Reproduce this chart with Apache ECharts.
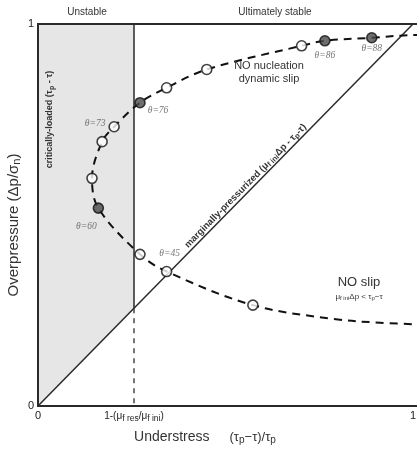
<!DOCTYPE html>
<html><head><meta charset="utf-8">
<script src="https://cdn.jsdelivr.net/npm/echarts@6/dist/echarts.min.js"></script>
<style>html,body{margin:0;padding:0;background:#fff}#c{width:417px;height:450px}</style>
</head><body><div id="c"></div>
<script>
// curve, from top-right around to bottom-right
const curveX = [1.06, 0.992, 0.890, 0.765, 0.703, 0.450, 0.343, 0.272, 0.203, 0.171, 0.144, 0.161, 0.272, 0.343, 0.573, 0.787, 0.912, 1.06];
const curveY = [0.972, 0.971, 0.964, 0.956, 0.943, 0.881, 0.833, 0.794, 0.731, 0.692, 0.596, 0.518, 0.397, 0.352, 0.264, 0.228, 0.218, 0.212];
// open markers
const openX = [0.703, 0.450, 0.343, 0.203, 0.171, 0.144, 0.272, 0.343, 0.573];
const openY = [0.943, 0.881, 0.833, 0.731, 0.692, 0.596, 0.397, 0.352, 0.264];
// filled markers
const fillX = [0.890, 0.765, 0.272, 0.161];
const fillY = [0.964, 0.956, 0.794, 0.518];
// theta labels
const thetaVal = [88, 86, 76, 73, 60, 45];
const thetaX = [0.890, 0.765, 0.272, 0.203, 0.161, 0.343];
const thetaY = [0.964, 0.956, 0.794, 0.731, 0.518, 0.352];
// threshold 1-(mu_res/mu_ini)
const threshold = 0.256;
const xTicks = [0, threshold, 1];
const yTicks = [0, 1];

const thetaOffsets = [[0, 11], [0, 15], [18, 8], [-19, -3], [-12, 18], [3, -18]];

const zip = (a, b) => a.map((v, i) => [v, b[i]]);
const chart = echarts.init(document.getElementById('c'));
const sans = 'Liberation Sans, Arial, sans-serif';

const option = {
  animation: false,
  grid: { left: 38, top: 24, height: 382, width: 412.5, outerBoundsMode: 'none', containLabel: false, show: true, borderColor: '#2a2a2a', borderWidth: 2, z: 10 },
  xAxis: {
    type: 'value', min: 0, max: 1.1, interval: 1,
    axisLine: { show: true, lineStyle: { color: '#2a2a2a', width: 2 } },
    axisTick: { show: false },
    splitLine: { show: false },
    axisLabel: {
      customValues: xTicks,
      margin: 4,
      formatter: v => v === 0 ? '{n|0}' : (Math.abs(v - threshold) < 1e-6 ? '{s|1-(μ}{sub|f res}{s|/μ}{sub|f ini}{s|)}' : '{n|1}'),
      rich: {
        n: { fontSize: 11, color: '#222', fontFamily: sans },
        s: { fontSize: 10, color: '#222', fontFamily: sans },
        sub: { fontSize: 8.5, color: '#222', fontFamily: sans, padding: [4, 0, 0, 0] }
      }
    }
  },
  yAxis: {
    type: 'value', min: 0, max: 1, interval: 1,
    axisLine: { show: true, lineStyle: { color: '#2a2a2a', width: 2 } },
    axisTick: { show: false },
    splitLine: { show: false },
    axisLabel: { fontSize: 11, color: '#222', fontFamily: sans, margin: 4 }
  },
  series: [
    {
      type: 'custom', silent: true, z: 1,
      renderItem: (params, api) => {
        const pts = [[0, 0], [0, 1], [threshold, 1], [threshold, threshold]].map(p => api.coord(p));
        return { type: 'polygon', shape: { points: pts }, style: { fill: '#e6e6e6' } };
      },
      data: [[0, 0]]
    },
    { type: 'line', z: 3, silent: true, symbol: 'none', data: [[threshold, 1], [threshold, threshold]], lineStyle: { color: '#2a2a2a', width: 1.5 } },
    { type: 'line', z: 3, silent: true, symbol: 'none', data: [[threshold, threshold], [threshold, 0]], lineStyle: { color: '#2a2a2a', width: 1.3, type: [5, 5] } },
    { type: 'line', z: 3, silent: true, symbol: 'none', data: [[0, 0], [1, 1]], lineStyle: { color: '#2a2a2a', width: 1.5 } },
    { type: 'line', z: 4, silent: true, symbol: 'none', smooth: 0.35, data: zip(curveX, curveY), lineStyle: { color: '#111', width: 2, type: [8, 6] } },
    { type: 'scatter', z: 5, symbol: 'circle', symbolSize: 10, data: zip(openX, openY), itemStyle: { color: '#fff', borderColor: '#111', borderWidth: 1.6 } },
    { type: 'scatter', z: 5, symbol: 'circle', symbolSize: 10, data: zip(fillX, fillY), itemStyle: { color: '#4a4a4a', borderColor: '#111', borderWidth: 1.6 } },
    {
      type: 'scatter', z: 6, symbolSize: 0,
      data: thetaVal.map((t, i) => ({
        value: [thetaX[i], thetaY[i]],
        label: { show: true, position: 'inside', offset: thetaOffsets[i], formatter: 'θ=' + t, fontFamily: 'Liberation Serif, serif', fontStyle: 'italic', fontSize: 9.5, color: '#555' }
      }))
    }
  ]
};
chart.setOption(option);

const px = p => chart.convertToPixel({ gridIndex: 0 }, p);
const diagC = px([0.565, 0.565]);
const noSlip = px([0.856, 0.304]);
const noNuc = px([0.616, 0.874]);
const crit = px([0.032, 0.75]);
const ang = Math.atan2(px([0, 0])[1] - px([1, 1])[1], px([1, 1])[0] - px([0, 0])[0]);

chart.setOption({
  graphic: [
    { type: 'text', z: 100, x: 87, y: 12, style: { text: 'Unstable', fontSize: 10, fill: '#333', fontFamily: sans, align: 'center', verticalAlign: 'middle' } },
    { type: 'text', z: 100, x: 275, y: 12, style: { text: 'Ultimately stable', fontSize: 10, fill: '#333', fontFamily: sans, align: 'center', verticalAlign: 'middle' } },
    { type: 'text', z: 100, x: 14, y: 225, rotation: Math.PI / 2, style: { text: '{a|Overpressure (Δp/σ}{b|n}{a|)}', align: 'center', verticalAlign: 'middle', rich: { a: { fontSize: 15, fill: '#333', fontFamily: sans }, b: { fontSize: 11, fill: '#333', fontFamily: sans, padding: [5, 0, 0, 0] } } } },
    { type: 'text', z: 100, x: 205, y: 437, style: { text: '{a|Understress}{g|}{c|(τ}{b|p}{c|−τ)/τ}{b|p}', align: 'center', verticalAlign: 'middle', rich: { a: { fontSize: 14, fill: '#333', fontFamily: sans }, g: { width: 20 }, c: { fontSize: 13, fill: '#333', fontFamily: sans }, b: { fontSize: 10, fill: '#333', fontFamily: sans, padding: [6, 0, 0, 0] } } } },
    { type: 'text', z: 100, x: crit[0], y: crit[1], rotation: Math.PI / 2, style: { text: '{a|critically-loaded (τ}{b|p}{a| - τ)}', align: 'center', verticalAlign: 'middle', rich: { a: { fontSize: 9, fontWeight: 'bold', fill: '#333', fontFamily: sans }, b: { fontSize: 7, fontWeight: 'bold', fill: '#333', fontFamily: sans, padding: [4, 0, 0, 0] } } } },
    { type: 'text', z: 100, x: diagC[0], y: diagC[1], rotation: ang, style: { text: '{a|marginally-pressurized (μ}{b|f ini}{a|Δp - τ}{b|p}{a|-τ)}', align: 'center', verticalAlign: 'bottom', rich: { a: { fontSize: 9.5, fontWeight: 'bold', fill: '#333', fontFamily: sans }, b: { fontSize: 7.5, fontWeight: 'bold', fill: '#333', fontFamily: sans, padding: [4, 0, 0, 0] } } } },
    { type: 'text', z: 100, x: noNuc[0], y: noNuc[1], style: { text: 'NO nucleation\ndynamic slip', fontSize: 11, lineHeight: 13, fill: '#333', fontFamily: sans, align: 'center', verticalAlign: 'middle' } },
    { type: 'text', z: 100, x: noSlip[0], y: noSlip[1] - 7, style: { text: 'NO slip', fontSize: 13, fill: '#333', fontFamily: sans, align: 'center', verticalAlign: 'middle' } },
    { type: 'text', z: 100, x: noSlip[0], y: noSlip[1] + 7, style: { text: '{a|μ}{b|f ini}{a|Δp < τ}{b|p}{a|−τ}', align: 'center', verticalAlign: 'middle', rich: { a: { fontSize: 8, fill: '#333', fontFamily: sans }, b: { fontSize: 6, fill: '#333', fontFamily: sans, padding: [3, 0, 0, 0] } } } }
  ]
});
</script>
</body></html>
